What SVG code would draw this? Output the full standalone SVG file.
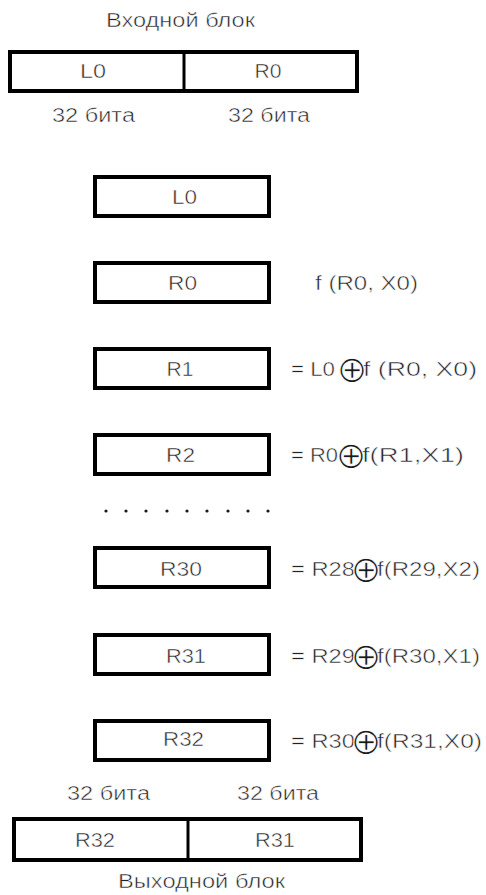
<svg xmlns="http://www.w3.org/2000/svg" width="486" height="895" viewBox="0 0 486 895">
<style>
  text { font-family: "Liberation Sans", Arial, sans-serif; font-size: 20px; fill: #222222; stroke: #ffffff; stroke-width: 0.5px; paint-order: fill; }
  .c { text-anchor: middle; }
  .box { fill: #ffffff; stroke: #000000; stroke-width: 4; }
  .div { stroke: #000000; stroke-width: 3; }
  .x { font-family: "DejaVu Sans", sans-serif; font-size: 37px; text-anchor: middle; fill: #1a1a1a; stroke-width: 1.0px; }
</style>
<rect width="486" height="895" fill="#ffffff"/>
<g id="input-block">
  <text class="c" x="180.5" y="27" textLength="149" lengthAdjust="spacingAndGlyphs">Входной блок</text>
  <rect class="box" x="10" y="52" width="347" height="39"/>
  <line class="div" x1="184" y1="52" x2="184" y2="91"/>
  <text class="c" x="93" y="78" textLength="26" lengthAdjust="spacingAndGlyphs">L0</text>
  <text class="c" x="268" y="78" textLength="27" lengthAdjust="spacingAndGlyphs">R0</text>
  <text class="c" x="93.5" y="122" textLength="83" lengthAdjust="spacingAndGlyphs">32 бита</text>
  <text class="c" x="269" y="122" textLength="82" lengthAdjust="spacingAndGlyphs">32 бита</text>
</g>
<g id="L0">
  <rect class="box" x="95" y="177" width="174" height="39"/>
  <text class="c" x="184.5" y="204" textLength="25" lengthAdjust="spacingAndGlyphs">L0</text>
</g>
<g id="R0">
  <rect class="box" x="95" y="263" width="174" height="39"/>
  <text class="c" x="182.5" y="290" textLength="29" lengthAdjust="spacingAndGlyphs">R0</text>
  <text x="315" y="290" textLength="103" lengthAdjust="spacingAndGlyphs">f (R0, X0)</text>
</g>
<g id="R1">
  <rect class="box" x="95" y="349" width="174" height="39"/>
  <text class="c" x="180" y="376" textLength="27" lengthAdjust="spacingAndGlyphs">R1</text>
  <text x="291" y="376" textLength="44" lengthAdjust="spacingAndGlyphs">= L0</text>
  <text class="x" x="352" y="382">⊕</text>
  <text x="363" y="376" textLength="114" lengthAdjust="spacingAndGlyphs">f (R0, X0)</text>
</g>
<g id="R2">
  <rect class="box" x="95" y="435" width="174" height="39"/>
  <text class="c" x="180.5" y="462" textLength="29" lengthAdjust="spacingAndGlyphs">R2</text>
  <text x="291" y="462" textLength="47" lengthAdjust="spacingAndGlyphs">= R0</text>
  <text class="x" x="351" y="468">⊕</text>
  <text x="362" y="462" textLength="102" lengthAdjust="spacingAndGlyphs">f(R1,X1)</text>
</g>
<g id="dots" fill="#1a1a1a">
  <circle cx="106" cy="511" r="1.6"/>
  <circle cx="126" cy="511" r="1.6"/>
  <circle cx="146" cy="511" r="1.6"/>
  <circle cx="167" cy="511" r="1.6"/>
  <circle cx="187" cy="511" r="1.6"/>
  <circle cx="207" cy="511" r="1.6"/>
  <circle cx="228" cy="511" r="1.6"/>
  <circle cx="248" cy="511" r="1.6"/>
  <circle cx="268" cy="511" r="1.6"/>
</g>
<g id="R30">
  <rect class="box" x="95" y="548" width="174" height="39"/>
  <text class="c" x="181" y="576" textLength="42" lengthAdjust="spacingAndGlyphs">R30</text>
  <text x="291" y="576" textLength="64" lengthAdjust="spacingAndGlyphs">= R28</text>
  <text class="x" x="366" y="582">⊕</text>
  <text x="377" y="576" textLength="103" lengthAdjust="spacingAndGlyphs">f(R29,X2)</text>
</g>
<g id="R31">
  <rect class="box" x="95" y="635" width="174" height="39"/>
  <text class="c" x="186" y="663" textLength="40" lengthAdjust="spacingAndGlyphs">R31</text>
  <text x="291" y="663" textLength="64" lengthAdjust="spacingAndGlyphs">= R29</text>
  <text class="x" x="366" y="669">⊕</text>
  <text x="377" y="663" textLength="103" lengthAdjust="spacingAndGlyphs">f(R30,X1)</text>
</g>
<g id="R32">
  <rect class="box" x="95" y="721" width="174" height="39"/>
  <text class="c" x="183.5" y="746" textLength="41" lengthAdjust="spacingAndGlyphs">R32</text>
  <text x="291" y="748" textLength="64" lengthAdjust="spacingAndGlyphs">= R30</text>
  <text class="x" x="366" y="754">⊕</text>
  <text x="377" y="748" textLength="105" lengthAdjust="spacingAndGlyphs">f(R31,X0)</text>
</g>
<g id="output-block">
  <text class="c" x="108.5" y="800" textLength="83" lengthAdjust="spacingAndGlyphs">32 бита</text>
  <text class="c" x="278" y="800" textLength="82" lengthAdjust="spacingAndGlyphs">32 бита</text>
  <rect class="box" x="14" y="819" width="347" height="41"/>
  <line class="div" x1="188" y1="819" x2="188" y2="860"/>
  <text class="c" x="95" y="847" textLength="40" lengthAdjust="spacingAndGlyphs">R32</text>
  <text class="c" x="275" y="847" textLength="40" lengthAdjust="spacingAndGlyphs">R31</text>
  <text class="c" x="201.5" y="888" textLength="167" lengthAdjust="spacingAndGlyphs">Выходной блок</text>
</g>
<g id="connectors"></g>
</svg>
